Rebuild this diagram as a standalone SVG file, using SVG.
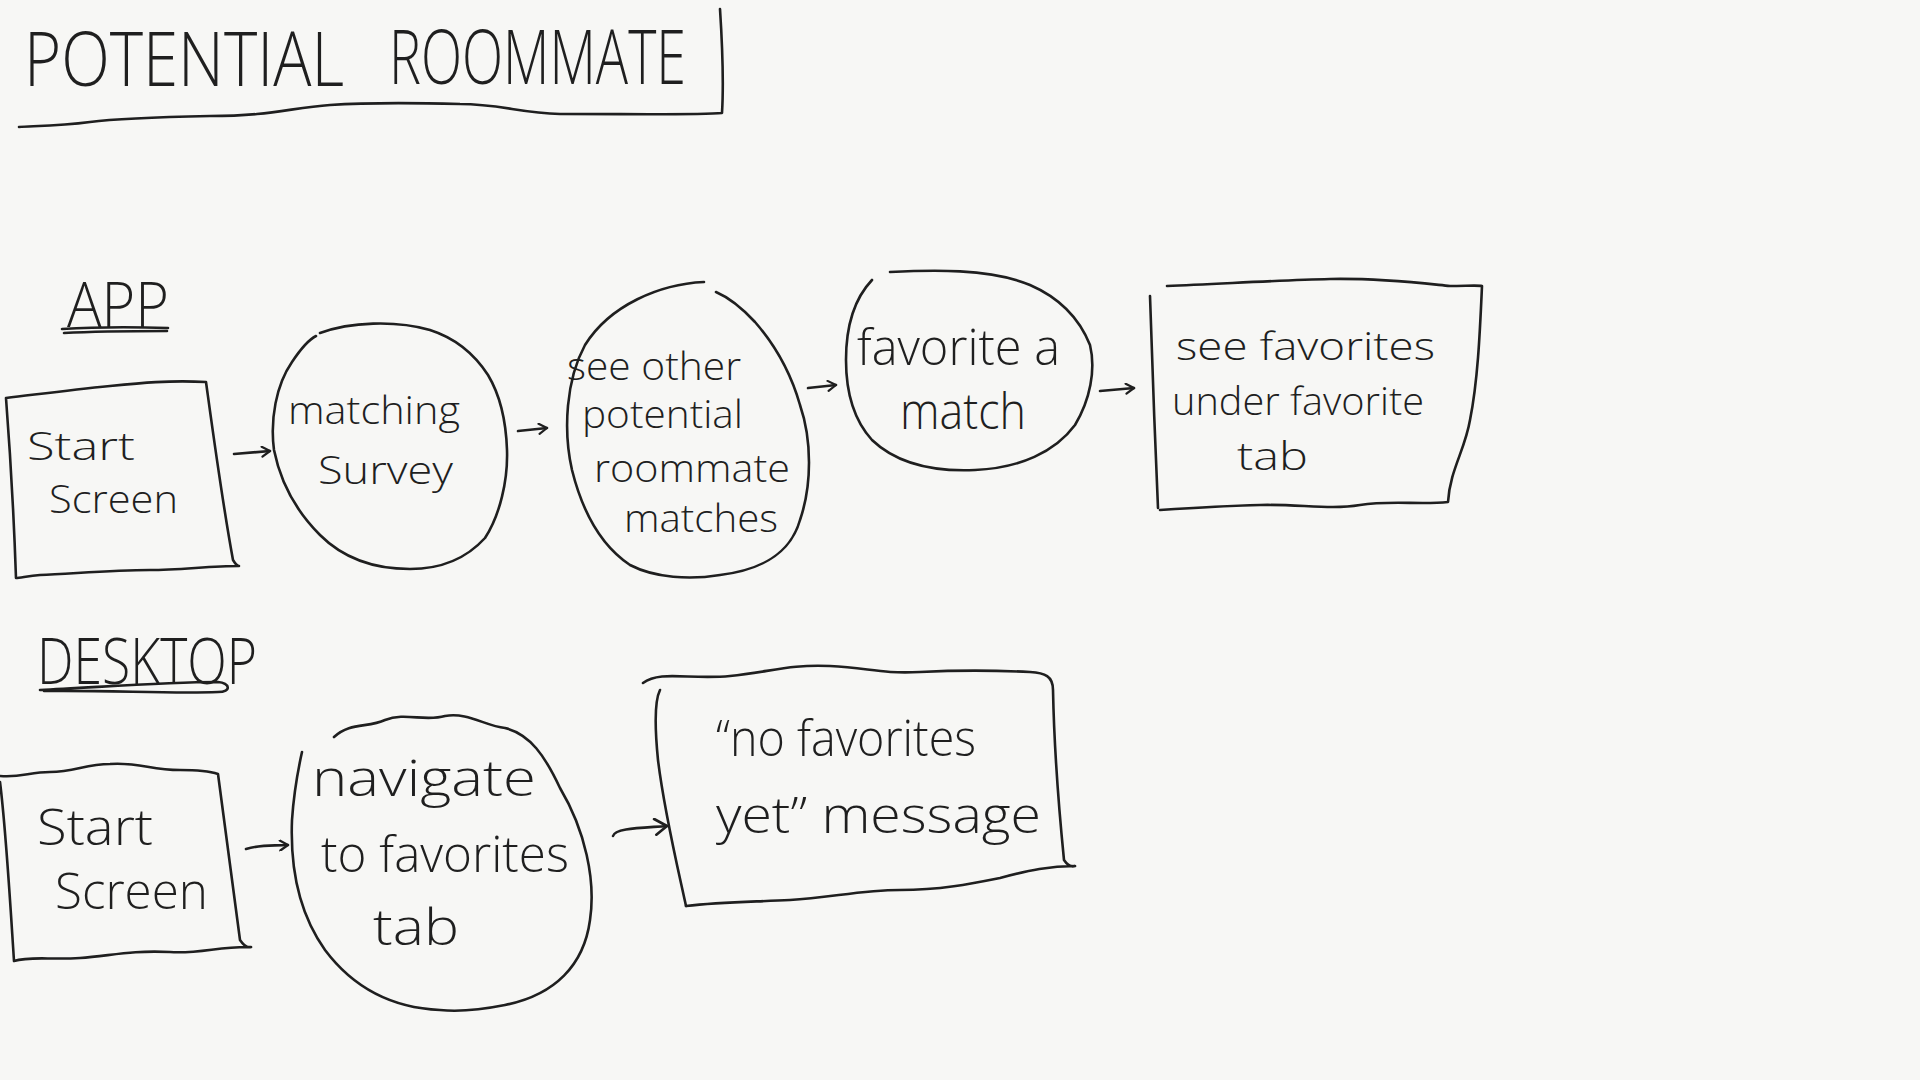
<svg xmlns="http://www.w3.org/2000/svg" width="1920" height="1080" viewBox="0 0 1920 1080">
<defs>
<style>
.ink{fill:none;stroke:#1f1f1f;stroke-width:2.6;stroke-linecap:round;stroke-linejoin:round}
.hw{font-family:"Open Sans","Lato","Liberation Sans",sans-serif;font-weight:300;fill:#1f1f1f;font-size:39px}
.hwl{font-family:"Open Sans","Lato","Liberation Sans",sans-serif;font-weight:300;fill:#1f1f1f;font-size:50px}
.cap{font-family:"Open Sans","Lato","Liberation Sans",sans-serif;font-weight:300;fill:#1f1f1f}
</style>
<marker id="ah" viewBox="0 0 12 12" refX="10" refY="6" markerWidth="12" markerHeight="12" markerUnits="userSpaceOnUse" orient="auto">
<path d="M2,1 L10,6 L2,11" fill="none" stroke="#1f1f1f" stroke-width="2.2" stroke-linecap="round" stroke-linejoin="round"/>
</marker>
<marker id="ahL" viewBox="0 0 16 16" refX="14" refY="8" markerWidth="18" markerHeight="18" markerUnits="userSpaceOnUse" orient="auto">
<path d="M3,1 L14,8 L4,15" fill="none" stroke="#1f1f1f" stroke-width="2.4" stroke-linecap="round" stroke-linejoin="round"/>
</marker>
</defs>
<rect width="1920" height="1080" fill="#f7f7f5"/>

<g id="title">
<text class="cap" x="24" y="86" font-size="76" textLength="320" lengthAdjust="spacingAndGlyphs">POTENTIAL</text>
<text class="cap" x="389" y="84" font-size="76" textLength="297" lengthAdjust="spacingAndGlyphs">ROOMMATE</text>
<path class="ink" d="M720,9 C722,40 724,80 722,113 C700,115 640,114 560,114 C520,113 500,104 460,104 C420,103 360,103 330,105 C290,108 270,116 210,116 C160,117 120,118 90,122 C60,126 35,126 19,127"/>
</g>

<g id="label-app">
<text class="cap" x="67" y="327" font-size="62" textLength="102" lengthAdjust="spacingAndGlyphs">APP</text>
<path class="ink" d="M62,329 C95,327 135,327 168,328 M64,333 C100,331 140,331 167,331"/>
</g>

<g id="label-desktop">
<text class="cap" x="37" y="684" font-size="64" textLength="220" lengthAdjust="spacingAndGlyphs">DESKTOP</text>
<path class="ink" d="M40,690 C90,688 160,682 218,682 C230,683 232,692 218,692 C170,694 110,690 44,691"/>
</g>

<g id="app-start">
<path class="ink" d="M6,398 C40,394 70,390 110,386 C140,383 170,380 206,382 C214,440 222,500 233,560 C236,565 238,566 239,566 C210,566 180,570 150,570 C110,570 70,574 40,575 C28,576 20,578 16,578 C14,520 10,450 6,398 Z"/>
<text class="hw" x="27" y="460" textLength="108" lengthAdjust="spacingAndGlyphs">Start</text>
<text class="hw" x="49" y="513" textLength="129" lengthAdjust="spacingAndGlyphs">Screen</text>
</g>

<g id="app-survey">
<path class="ink" d="M320,333 C350,322 395,320 430,330 C455,338 475,355 488,375 C500,395 506,420 507,450 C508,480 500,515 485,538 C465,560 440,569 410,569 C375,569 345,560 320,535 C295,510 280,480 274,450 C270,420 276,385 292,362 C300,350 308,340 316,336"/>
<text class="hw" x="288" y="424" textLength="172" lengthAdjust="spacingAndGlyphs">matching</text>
<text class="hw" x="318" y="484" textLength="135" lengthAdjust="spacingAndGlyphs">Survey</text>
</g>

<g id="app-matches">
<path class="ink" d="M704,282 C660,284 610,305 585,345 C566,380 563,430 572,470 C582,510 600,545 630,565 C655,578 690,580 720,575 C760,570 790,555 800,520 C812,485 812,440 800,405 C790,370 775,345 755,322 C742,308 730,298 716,292"/>
<text class="hw" x="567" y="380" textLength="174" lengthAdjust="spacingAndGlyphs">see other</text>
<text class="hw" x="582" y="428" textLength="161" lengthAdjust="spacingAndGlyphs">potential</text>
<text class="hw" x="594" y="482" textLength="196" lengthAdjust="spacingAndGlyphs">roommate</text>
<text class="hw" x="624" y="532" textLength="154" lengthAdjust="spacingAndGlyphs">matches</text>
</g>

<g id="app-favorite">
<path class="ink" d="M890,272 C930,270 990,268 1030,285 C1060,298 1080,320 1090,345 C1096,370 1090,400 1075,425 C1055,452 1020,468 975,470 C930,472 895,462 872,440 C852,418 846,390 846,360 C846,325 855,298 872,280"/>
<text class="hwl" x="857" y="365" textLength="203" lengthAdjust="spacingAndGlyphs">favorite a</text>
<text class="hwl" x="900" y="429" textLength="126" lengthAdjust="spacingAndGlyphs">match</text>
</g>

<g id="app-see-favorites">
<path class="ink" d="M1167,286 C1220,284 1280,280 1330,279 C1380,278 1420,283 1450,286 C1465,286 1478,285 1482,286 C1480,330 1478,380 1470,420 C1465,450 1450,470 1448,502 C1420,505 1390,500 1360,505 C1330,510 1300,504 1260,505 C1220,506 1190,508 1160,510"/>
<path class="ink" d="M1150,296 C1152,360 1155,440 1158,508"/>
<text class="hw" x="1176" y="360" textLength="259" lengthAdjust="spacingAndGlyphs">see favorites</text>
<text class="hw" x="1172" y="415" textLength="252" lengthAdjust="spacingAndGlyphs">under favorite</text>
<text class="hw" x="1237" y="470" textLength="71" lengthAdjust="spacingAndGlyphs">tab</text>
</g>

<g id="desk-start">
<path class="ink" d="M0,776 C20,778 30,772 50,772 C75,772 85,764 110,764 C140,762 150,770 180,770 C200,770 212,772 218,774 C224,820 232,880 240,940 C244,946 248,948 251,947 C220,946 200,954 170,952 C130,950 110,956 80,958 C50,960 30,956 14,961 C10,900 6,830 0,782"/>
<text class="hwl" x="37" y="845" textLength="116" lengthAdjust="spacingAndGlyphs">Start</text>
<text class="hwl" x="55" y="909" textLength="153" lengthAdjust="spacingAndGlyphs">Screen</text>
</g>

<g id="desk-navigate">
<path class="ink" d="M334,737 C350,722 368,728 385,720 C405,712 425,722 445,716 C468,712 485,726 505,728 C530,734 545,756 560,788 C585,830 596,880 590,920 C584,965 555,995 505,1005 C480,1010 460,1012 440,1010 C395,1008 355,990 325,950 C300,915 290,870 292,820 C294,790 298,770 302,752"/>
<text class="hwl" x="312" y="796" textLength="224" lengthAdjust="spacingAndGlyphs">navigate</text>
<text class="hwl" x="321" y="872" textLength="248" lengthAdjust="spacingAndGlyphs">to favorites</text>
<text class="hwl" x="373" y="945" textLength="86" lengthAdjust="spacingAndGlyphs">tab</text>
</g>

<g id="desk-no-favorites">
<path class="ink" d="M643,683 C660,670 690,680 730,676 C770,672 790,664 830,666 C870,668 880,674 920,672 C960,670 990,670 1030,672 C1045,673 1053,676 1053,690 C1054,740 1058,800 1064,860 C1068,866 1072,867 1075,866 C1050,866 1030,870 1000,878 C970,884 940,890 900,890 C860,890 830,898 790,900 C750,902 720,902 686,906"/>
<path class="ink" d="M660,690 C655,700 654,720 658,760 C664,810 676,860 686,906"/>
<text class="hwl" x="716" y="756" textLength="260" lengthAdjust="spacingAndGlyphs">“no favorites</text>
<text class="hwl" x="716" y="833" textLength="325" lengthAdjust="spacingAndGlyphs">yet” message</text>
</g>

<g id="connectors">
<path class="ink" d="M234,454 L270,451" marker-end="url(#ah)"/>
<path class="ink" d="M518,431 L547,428" marker-end="url(#ah)"/>
<path class="ink" d="M808,388 L836,385" marker-end="url(#ah)"/>
<path class="ink" d="M1100,391 L1134,388" marker-end="url(#ah)"/>
<path class="ink" d="M246,849 C262,844 272,846 288,845" marker-end="url(#ah)"/>
<path class="ink" d="M613,836 C615,828 640,828 667,826" marker-end="url(#ahL)"/>
</g>
</svg>
